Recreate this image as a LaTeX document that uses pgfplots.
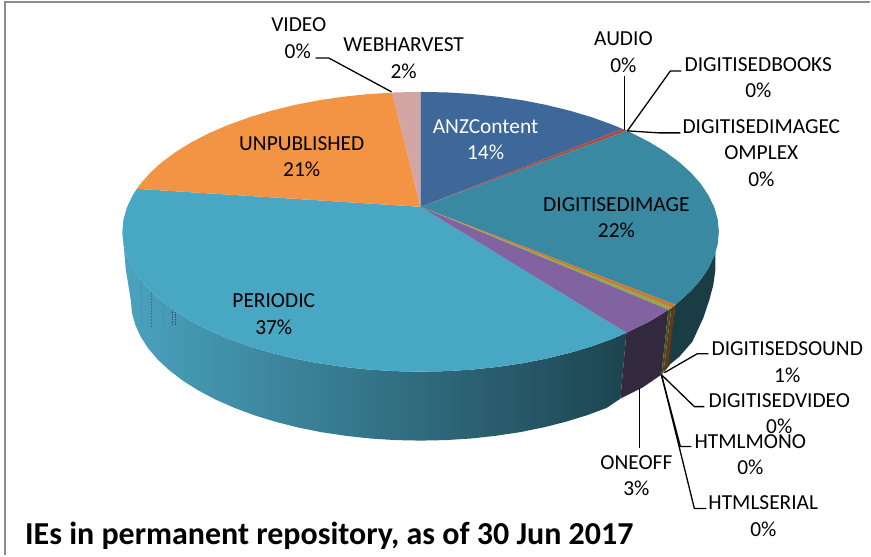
\documentclass[border=0pt]{standalone}
\usepackage{pgfplots}
\pgfplotsset{compat=1.18}
\usepackage{fontspec}
\setmainfont{Carlito}
\definecolor{anz}{HTML}{3D6899}
\definecolor{redw}{HTML}{A94F4A}
\definecolor{dimg}{HTML}{3A89A3}
\definecolor{dimgw}{HTML}{1A3C45}
\definecolor{snd}{HTML}{C87B37}
\definecolor{sndw}{HTML}{5E3A1A}
\definecolor{grn}{HTML}{8FA94F}
\definecolor{grnw}{HTML}{465224}
\definecolor{pur}{HTML}{8063A0}
\definecolor{purw}{HTML}{33293F}
\definecolor{per}{HTML}{48A8C4}
\definecolor{unp}{HTML}{F39444}
\definecolor{web}{HTML}{D4A5A5}
\definecolor{pera}{HTML}{4AA3BF}
\definecolor{perb}{HTML}{2F6172}
\definecolor{perc}{HTML}{1D4450}
\definecolor{frame}{HTML}{8C8C8C}
\newcommand{\lab}[4][black]{\node[anchor=center,align=center,text height=13.5pt,text depth=0pt,inner sep=0pt,text=#1,font=\fontsize{21.4}{25}\selectfont] at (axis cs:#2,#3) {#4};}
\begin{document}
\begin{tikzpicture}
\begin{axis}[scale only axis,width=871pt,height=556pt,xmin=0,xmax=871,ymin=0,ymax=556,y dir=reverse,hide axis,clip=false]
% page background
\addplot[fill=white,draw=none] coordinates {(0,0)(871,0)(871,556)(0,556)} -- cycle;
% frame
\addplot[frame,line width=1.6pt] coordinates {(5,556)(5,2)(871,2)};
% walls
\addplot[left color=pera,middle color=perb,right color=perc,draw=none] coordinates {(627,333)(612.9,339.2)(592.2,346.7)(570.3,353.2)(547.1,358.9)(523.1,363.6)(498.3,367.2)(472.8,369.9)(447,371.5)(421,372)(395,371.5)(369.2,369.9)(343.7,367.2)(318.9,363.6)(294.9,358.9)(271.7,353.2)(249.8,346.7)(229.1,339.2)(209.9,331)(192.3,322)(176.5,312.3)(162.5,302)(150.5,291.2)(140.5,279.9)(132.7,268.2)(127,256.3)(123.6,244.2)(122.5,232)(126,270)(131,301)(132.1,313.2)(135.4,325.3)(140.9,337.2)(148.5,348.9)(158.2,360.2)(169.9,371)(183.4,381.3)(198.9,391)(215.9,400)(234.6,408.2)(254.7,415.7)(276,422.2)(298.4,427.9)(321.8,432.6)(345.9,436.2)(370.7,438.9)(395.7,440.5)(421,441)(446.3,440.5)(471.3,438.9)(496.1,436.2)(520.2,432.6)(543.6,427.9)(566,422.2)(587.3,415.7)(607.4,408.2)(621,399)} -- cycle;
\addplot[fill=purw,draw=none] coordinates {(669,310)(665.5,312.3)(649.7,322)(627,333)(621,399)(643,388)(662,375)} -- cycle;
\addplot[fill=grnw,draw=none] coordinates {(672,308)(669,310)(662,375)(664,373)} -- cycle;
\addplot[fill=sndw,draw=none] coordinates {(676,305)(672,308)(664,373)(670,366)} -- cycle;
\addplot[fill=dimgw,draw=none] coordinates {(676,305)(679.5,302)(691.5,291.2)(701.5,279.9)(709.3,268.2)(716,252)(716,270)(714,285)(710,300)(704,318)(693,342)(680,357)(669,366)} -- cycle;
% dotted artefacts on the left wall
\addplot[perb!70!pera,line width=.5pt,densely dotted] coordinates {(141,281)(142,327)};
\addplot[perb!70!pera,line width=.5pt,densely dotted] coordinates {(151,292)(151,327)};
\addplot[perb!70!pera,line width=.5pt,densely dotted] coordinates {(163,303)(164,327)};
\addplot[purw!70!pera,line width=.8pt,densely dotted] coordinates {(173,310)(173,326)};
\addplot[purw!70!pera,line width=.8pt,densely dotted] coordinates {(176,312)(176,326)};
% top slices
\addplot[fill=per,draw=none] coordinates {(421,207)(627,333)(612.9,339.2)(592.2,346.7)(570.3,353.2)(547.1,358.9)(523.1,363.6)(498.3,367.2)(472.8,369.9)(447,371.5)(421,372)(395,371.5)(369.2,369.9)(343.7,367.2)(318.9,363.6)(294.9,358.9)(271.7,353.2)(249.8,346.7)(229.1,339.2)(209.9,331)(192.3,322)(176.5,312.3)(162.5,302)(150.5,291.2)(140.5,279.9)(132.7,268.2)(127,256.3)(123.6,244.2)(122.5,232)(123.6,219.8)(127,207.7)(132.7,195.8)(137,189)} -- cycle;
\addplot[fill=unp,draw=none] coordinates {(421,207)(137,189)(140.5,184.1)(150.5,172.8)(162.5,162)(176.5,151.7)(192.3,142)(209.9,133)(229.1,124.8)(249.8,117.3)(271.7,110.8)(294.9,105.1)(318.9,100.4)(343.7,96.8)(369.2,94.1)(392.5,92.8)} -- cycle;
\addplot[fill=web,draw=none] coordinates {(421,207)(392.5,92.8)(395,92.5)(421,92)} -- cycle;
\addplot[fill=anz,draw=none] coordinates {(421,207)(421,92)(447,92.5)(472.8,94.1)(498.3,96.8)(523.1,100.4)(547.1,105.1)(570.3,110.8)(592.2,117.3)(612.9,124.8)(623,129)} -- cycle;
\addplot[fill=redw,draw=none] coordinates {(421,207)(623,129)(628,131)} -- cycle;
\addplot[fill=dimg,draw=none] coordinates {(421,207)(628,131)(632.1,133)(649.7,142)(665.5,151.7)(679.5,162)(691.5,172.8)(701.5,184.1)(709.3,195.8)(715,207.7)(718.4,219.8)(719.5,232)(718.4,244.2)(715,256.3)(709.3,268.2)(701.5,279.9)(691.5,291.2)(679.5,302)(676,305)} -- cycle;
\addplot[fill=snd,draw=none] coordinates {(421,207)(676,305)(672,308)} -- cycle;
\addplot[fill=grn,draw=none] coordinates {(421,207)(672,308)(669,310)} -- cycle;
\addplot[fill=pur,draw=none] coordinates {(421,207)(669,310)(665.5,312.3)(649.7,322)(627,333)} -- cycle;
% leaders
\addplot[black,line width=1.3pt] coordinates {(316,58)(329,58)(392,92)};
\addplot[black,line width=1.3pt] coordinates {(625,76)(625,130)};
\addplot[black,line width=1.3pt] coordinates {(682,71)(671,71)(628,131)};
\addplot[black,line width=1.3pt] coordinates {(681,133)(660,133)(628,131)};
\addplot[black,line width=1.3pt] coordinates {(665,373)(698,354)(709,354)};
\addplot[black,line width=1.3pt] coordinates {(662,375)(695,407)(705,407)};
\addplot[black,line width=1.3pt] coordinates {(662,375)(681,447)(692,447)};
\addplot[black,line width=1.3pt] coordinates {(662,375)(695,509)(707,509)};
\addplot[black,line width=1.3pt] coordinates {(640,388)(640,448)};
% labels
\lab[white]{486}{127}{ANZContent}
\lab[white]{486}{153}{14\%}
\lab{302}{144}{UNPUBLISHED}
\lab{302}{170}{21\%}
\lab{617}{205}{DIGITISEDIMAGE}
\lab{617}{231}{22\%}
\lab{274}{301}{PERIODIC}
\lab{274}{328}{37\%}
\lab{299}{25}{VIDEO}
\lab{298}{52}{0\%}
\lab{404}{45}{WEBHARVEST}
\lab{404}{72}{2\%}
\lab{624}{39}{AUDIO}
\lab{624}{66}{0\%}
\lab{759}{65}{DIGITISEDBOOKS}
\lab{759}{91}{0\%}
\lab{762}{127}{DIGITISEDIMAGEC}
\lab{762}{153}{OMPLEX}
\lab{762}{180}{0\%}
\lab{788}{349}{DIGITISEDSOUND}
\lab{788}{376}{1\%}
\lab{780}{401}{DIGITISEDVIDEO}
\lab{780}{427}{0\%}
\lab{751}{442}{HTMLMONO}
\lab{751}{468}{0\%}
\lab{764}{503}{HTMLSERIAL}
\lab{764}{530}{0\%}
\lab{637}{463}{ONEOFF}
\lab{637}{489}{3\%}
\node[anchor=base west,inner sep=0pt,font=\fontsize{32}{36}\selectfont\bfseries] at (axis cs:25,545) {IEs in permanent repository, as of 30 Jun 2017};
\end{axis}
\end{tikzpicture}
\end{document}
